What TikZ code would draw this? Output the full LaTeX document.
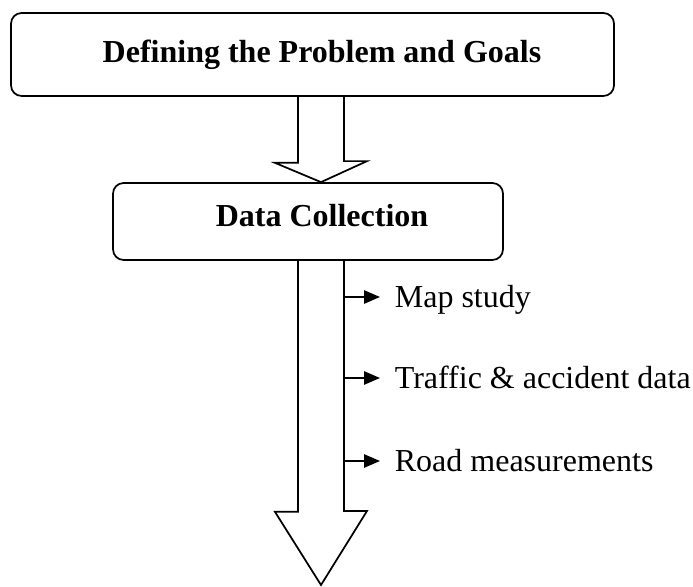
\documentclass[tikz,border=0pt]{standalone}
\usepackage{fontspec}
\setmainfont{Liberation Serif}
\usepackage{tikz}
\usetikzlibrary{calc,arrows.meta}

\begin{document}
\begin{tikzpicture} [ x=0.75pt, y=0.75pt, line width=1.3pt,
    box/.style={draw, rounded corners=8pt, inner sep=0pt},
    title/.style={font=\fontsize{24}{28}\selectfont\bfseries, anchor=base, inner sep=0pt},
    item/.style={font=\fontsize{24}{28}\selectfont, anchor=base west, inner sep=0pt},
    branch/.style={-{Triangle[length=12pt,width=10pt]}},
    ]
    \useasboundingbox (0,0) rectangle (693,586);

    % the two steps
    \node[box, minimum width=452.25pt, minimum height=62.25pt] (goalsbox) at (312.5,531.5) {};
    \node[title] (goals) at (322,523) {Defining the Problem and Goals};
    \node[box, minimum width=292.5pt, minimum height=57.75pt] (databox) at (308,364.5) {};
    \node[title] (data) at (322,359) {Data Collection};

    \coordinate (axis) at (321,0);
    \coordinate (shaftr) at (344,0);
    \coordinate (stop) at (321,1);

    % hollow arrow between the boxes
    \draw ($(goalsbox.south -| axis)+(-23,0)$) -- ++(0,-66) -- ++(-23,0)
    -- (databox.north -| axis) -- ++(46,21) -- ++(-23,0)
    -- ($(goalsbox.south -| axis)+(23,0)$);

    % long hollow arrow below data collection
    \draw ($(databox.south -| axis)+(-23,0)$) -- ++(0,-251) -- ++(-23,0)
    -- (stop) -- ++(46,74) -- ++(-23,0)
    -- ($(databox.south -| axis)+(23,0)$);

    \node[item] (map) at (394,278) {Map study};
    \node[item] (traffic) at (394,197) {Traffic \& accident data};
    \node[item] (road) at (394,114) {Road measurements};

    \draw[branch] ($(map.base west -| shaftr)+(0,11)$) -- ($(map.base west)+(-14,11)$);
    \draw[branch] ($(traffic.base west -| shaftr)+(0,11)$) -- ($(traffic.base west)+(-14,11)$);
    \draw[branch] ($(road.base west -| shaftr)+(0,11)$) -- ($(road.base west)+(-14,11)$);

\end{tikzpicture}
\end{document}
